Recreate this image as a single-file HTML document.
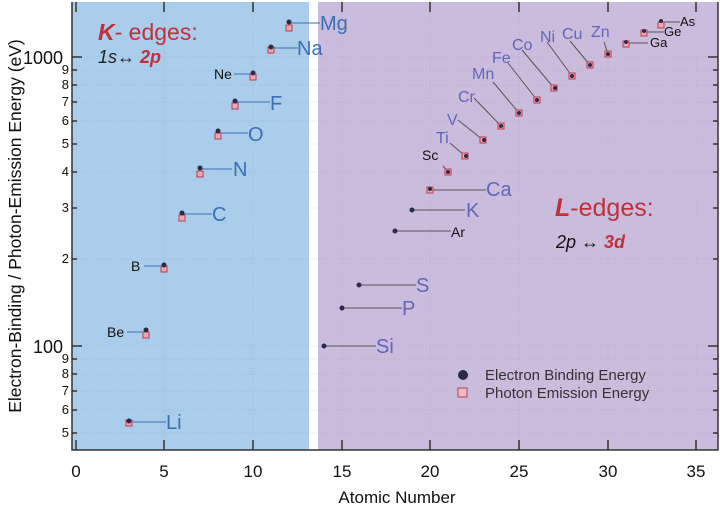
<!DOCTYPE html><html><head><style>body{margin:0;background:#fff}svg{display:block;font-family:"Liberation Sans",sans-serif}</style></head><body>
<svg width="720" height="507" viewBox="0 0 720 507">
<rect x="72" y="2" width="237" height="448" fill="#a9cdea"/>
<rect x="318" y="2" width="400" height="448" fill="#cabcdc"/>
<g stroke="#8fa0c0" stroke-width="0.6" stroke-dasharray="1,2" opacity="0.7">
<line x1="164" y1="2" x2="164" y2="450"/><line x1="253" y1="2" x2="253" y2="450"/><line x1="342" y1="2" x2="342" y2="450"/><line x1="430" y1="2" x2="430" y2="450"/><line x1="519" y1="2" x2="519" y2="450"/><line x1="608" y1="2" x2="608" y2="450"/><line x1="696" y1="2" x2="696" y2="450"/>
<line x1="72" y1="57" x2="718" y2="57"/><line x1="72" y1="70" x2="718" y2="70"/><line x1="72" y1="85" x2="718" y2="85"/><line x1="72" y1="102" x2="718" y2="102"/><line x1="72" y1="121" x2="718" y2="121"/><line x1="72" y1="144" x2="718" y2="144"/><line x1="72" y1="172" x2="718" y2="172"/><line x1="72" y1="208" x2="718" y2="208"/><line x1="72" y1="259" x2="718" y2="259"/><line x1="72" y1="346" x2="718" y2="346"/><line x1="72" y1="359" x2="718" y2="359"/><line x1="72" y1="374" x2="718" y2="374"/><line x1="72" y1="391" x2="718" y2="391"/><line x1="72" y1="410" x2="718" y2="410"/><line x1="72" y1="433" x2="718" y2="433"/>
</g>
<g stroke="#333" stroke-width="1.5" fill="none">
<polyline points="72,2 72,450 718,450 718,2"/>
<line x1="76" y1="450" x2="76" y2="440"/><line x1="164" y1="450" x2="164" y2="440"/><line x1="253" y1="450" x2="253" y2="440"/><line x1="342" y1="450" x2="342" y2="440"/><line x1="430" y1="450" x2="430" y2="440"/><line x1="519" y1="450" x2="519" y2="440"/><line x1="608" y1="450" x2="608" y2="440"/><line x1="696" y1="450" x2="696" y2="440"/>
<line x1="76" y1="2" x2="76" y2="12"/><line x1="164" y1="2" x2="164" y2="12"/><line x1="253" y1="2" x2="253" y2="12"/><line x1="342" y1="2" x2="342" y2="12"/><line x1="430" y1="2" x2="430" y2="12"/><line x1="519" y1="2" x2="519" y2="12"/><line x1="608" y1="2" x2="608" y2="12"/><line x1="696" y1="2" x2="696" y2="12"/>
<line x1="72" y1="57" x2="82" y2="57"/><line x1="72" y1="346" x2="82" y2="346"/><line x1="708" y1="57" x2="718" y2="57"/><line x1="708" y1="346" x2="718" y2="346"/>
<line x1="72" y1="70" x2="77" y2="70"/><line x1="72" y1="85" x2="77" y2="85"/><line x1="72" y1="102" x2="77" y2="102"/><line x1="72" y1="121" x2="77" y2="121"/><line x1="72" y1="144" x2="77" y2="144"/><line x1="72" y1="172" x2="77" y2="172"/><line x1="72" y1="208" x2="77" y2="208"/><line x1="72" y1="259" x2="77" y2="259"/><line x1="72" y1="359" x2="77" y2="359"/><line x1="72" y1="374" x2="77" y2="374"/><line x1="72" y1="391" x2="77" y2="391"/><line x1="72" y1="410" x2="77" y2="410"/><line x1="72" y1="433" x2="77" y2="433"/>
<line x1="713" y1="70" x2="718" y2="70"/><line x1="713" y1="85" x2="718" y2="85"/><line x1="713" y1="102" x2="718" y2="102"/><line x1="713" y1="121" x2="718" y2="121"/><line x1="713" y1="144" x2="718" y2="144"/><line x1="713" y1="172" x2="718" y2="172"/><line x1="713" y1="208" x2="718" y2="208"/><line x1="713" y1="259" x2="718" y2="259"/><line x1="713" y1="359" x2="718" y2="359"/><line x1="713" y1="374" x2="718" y2="374"/><line x1="713" y1="391" x2="718" y2="391"/><line x1="713" y1="410" x2="718" y2="410"/><line x1="713" y1="433" x2="718" y2="433"/>
</g>
<g font-size="17" fill="#111" text-anchor="middle">
<text x="76" y="477">0</text><text x="164" y="477">5</text><text x="253" y="477">10</text><text x="342" y="477">15</text><text x="430" y="477">20</text><text x="519" y="477">25</text><text x="608" y="477">30</text><text x="696" y="477">35</text>
<text x="397" y="503">Atomic Number</text>
</g>
<g font-size="18" fill="#111" text-anchor="end">
<text x="63" y="64">1000</text><text x="63" y="353">100</text>
</g>
<g font-size="13" fill="#111" text-anchor="end">
<text x="69" y="74">9</text><text x="69" y="89">8</text><text x="69" y="106">7</text><text x="69" y="125">6</text><text x="69" y="148">5</text><text x="69" y="176">4</text><text x="69" y="212">3</text><text x="69" y="263">2</text><text x="69" y="363">9</text><text x="69" y="378">8</text><text x="69" y="395">7</text><text x="69" y="414">6</text><text x="69" y="437">5</text>
</g>
<text transform="translate(21,226) rotate(-90)" font-size="17.5" fill="#111" text-anchor="middle">Electron-Binding / Photon-Emission Energy (eV)</text>
<g stroke-width="1">
<g stroke="#3a6fb5">
<line x1="130" y1="422" x2="166" y2="422"/><line x1="127" y1="332" x2="145" y2="332"/><line x1="144" y1="266" x2="162" y2="266"/><line x1="182" y1="214" x2="212" y2="214"/><line x1="200" y1="169" x2="232" y2="169"/><line x1="218" y1="133" x2="248" y2="133"/><line x1="236" y1="102" x2="270" y2="102"/><line x1="234" y1="74" x2="251" y2="74"/><line x1="271" y1="48" x2="298" y2="48"/><line x1="289" y1="23" x2="320" y2="23"/>
</g>
<g stroke="#555">
<line x1="323" y1="346" x2="376" y2="346"/><line x1="341" y1="308" x2="402" y2="308"/><line x1="359" y1="285" x2="416" y2="285"/><line x1="395" y1="231" x2="451" y2="231"/><line x1="412" y1="210" x2="465" y2="210"/><line x1="430" y1="190" x2="486" y2="190"/>
<line x1="448" y1="172" x2="443" y2="166"/><line x1="465" y1="156" x2="450" y2="143"/><line x1="483" y1="140" x2="458" y2="120"/><line x1="501" y1="126" x2="474" y2="98"/><line x1="519" y1="113" x2="493" y2="82"/><line x1="537" y1="100" x2="508" y2="63"/><line x1="554" y1="88" x2="522" y2="50"/><line x1="572" y1="76" x2="547" y2="42"/><line x1="590" y1="65" x2="570" y2="41"/><line x1="608" y1="54" x2="604" y2="42"/>
<line x1="626" y1="43" x2="648" y2="43"/><line x1="644" y1="32" x2="664" y2="32"/><line x1="661" y1="22" x2="680" y2="22"/>
</g>
</g>
<g fill="#e9a9b4" stroke="#c43a4a" stroke-width="1">
<rect x="126" y="420" width="6" height="6"/><rect x="143" y="332" width="6" height="6"/><rect x="161" y="266" width="6" height="6"/><rect x="179" y="215" width="6" height="6"/><rect x="197" y="171" width="6" height="6"/><rect x="215" y="133" width="6" height="6"/><rect x="232" y="103" width="6" height="6"/><rect x="250" y="74" width="6" height="6"/><rect x="268" y="47" width="6" height="6"/><rect x="286" y="25" width="6" height="6"/>
<rect x="427" y="187" width="6" height="6"/><rect x="445" y="169" width="6" height="6"/><rect x="462" y="153" width="6" height="6"/><rect x="480" y="137" width="6" height="6"/><rect x="498" y="123" width="6" height="6"/><rect x="516" y="110" width="6" height="6"/><rect x="534" y="97" width="6" height="6"/><rect x="551" y="85" width="6" height="6"/><rect x="569" y="73" width="6" height="6"/><rect x="587" y="62" width="6" height="6"/><rect x="605" y="51" width="6" height="6"/><rect x="623" y="41" width="6" height="6"/><rect x="641" y="30" width="6" height="6"/><rect x="658" y="22" width="6" height="6"/>
</g>
<g fill="#2b2a4a">
<circle cx="129" cy="421" r="2.5"/><circle cx="146" cy="330" r="2.5"/><circle cx="164" cy="265" r="2.5"/><circle cx="182" cy="213" r="2.5"/><circle cx="200" cy="168" r="2.5"/><circle cx="218" cy="131" r="2.5"/><circle cx="235" cy="101" r="2.5"/><circle cx="253" cy="73" r="2.5"/><circle cx="271" cy="47" r="2.5"/><circle cx="289" cy="22" r="2.5"/>
<circle cx="324" cy="346" r="2.5"/><circle cx="342" cy="308" r="2.5"/><circle cx="359" cy="285" r="2.5"/><circle cx="395" cy="231" r="2.5"/><circle cx="412" cy="210" r="2.5"/><circle cx="430" cy="189" r="2"/><circle cx="448" cy="172" r="2"/><circle cx="466" cy="156" r="2"/><circle cx="484" cy="140" r="2"/><circle cx="501" cy="126" r="2"/><circle cx="519" cy="113" r="2"/><circle cx="537" cy="100" r="2"/><circle cx="555" cy="88" r="2"/><circle cx="572" cy="76" r="2"/><circle cx="590" cy="65" r="2"/><circle cx="608" cy="54" r="2"/><circle cx="626" cy="42" r="2"/><circle cx="644" cy="31" r="2"/><circle cx="661" cy="21" r="2"/>
</g>
<g font-size="20" fill="#3a6fb5">
<text x="166" y="429">Li</text><text x="212" y="221">C</text><text x="233" y="176">N</text><text x="248" y="141">O</text><text x="270" y="110">F</text><text x="297" y="55">Na</text><text x="320" y="30">Mg</text>
</g>
<g font-size="14" fill="#111">
<text x="107" y="337">Be</text><text x="131" y="271">B</text><text x="214" y="79">Ne</text>
<text x="451" y="237">Ar</text><text x="422" y="160">Sc</text>
</g>
<g font-size="13" fill="#111"><text x="680" y="26">As</text><text x="664" y="36">Ge</text><text x="650" y="47">Ga</text></g>
<g font-size="20" fill="#6464b8">
<text x="376" y="353">Si</text><text x="402" y="315">P</text><text x="416" y="292">S</text><text x="466" y="217">K</text><text x="486" y="196">Ca</text>
</g>
<g font-size="16" fill="#6464b8">
<text x="436" y="143">Ti</text><text x="447" y="125">V</text><text x="458" y="102">Cr</text><text x="472" y="79">Mn</text><text x="492" y="63">Fe</text><text x="512" y="50">Co</text><text x="540" y="42">Ni</text><text x="562" y="39">Cu</text><text x="591" y="37">Zn</text>
</g>
<text x="98" y="40" font-size="23" fill="#c0303a"><tspan font-weight="bold" font-style="italic">K</tspan>- edges:</text>
<text x="98" y="63" font-size="18" font-style="italic" fill="#222">1s↔ <tspan fill="#c0303a" font-weight="bold">2p</tspan></text>
<text x="555" y="216" font-size="25" fill="#c0303a"><tspan font-weight="bold" font-style="italic">L</tspan>-edges:</text>
<text x="556" y="248" font-size="18" font-style="italic" fill="#111">2p ↔ <tspan fill="#c0303a" font-weight="bold">3d</tspan></text>
<circle cx="463" cy="375" r="5" fill="#2b2a4a"/>
<rect x="458" y="388" width="9" height="9" fill="#e9b9c4" stroke="#c43a4a"/>
<g font-size="15" fill="#333"><text x="485" y="380">Electron Binding Energy</text><text x="485" y="398">Photon Emission Energy</text></g>
</svg>
</body></html>
